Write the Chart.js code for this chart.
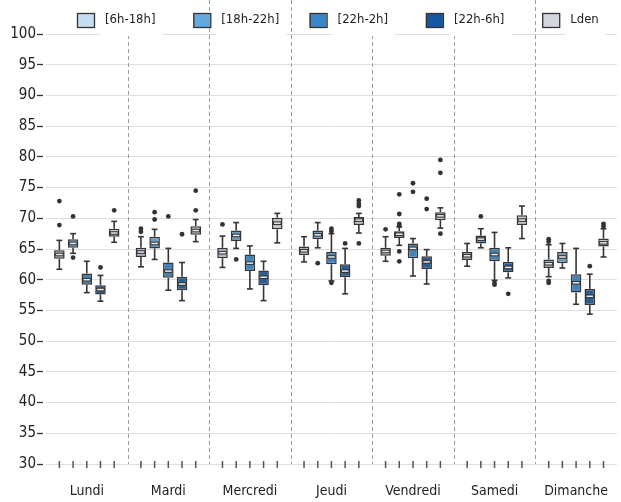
<!DOCTYPE html>
<html>
<head>
<meta charset="utf-8">
<script src="https://cdn.jsdelivr.net/npm/chart.js@4.4.1/dist/chart.umd.min.js"></script>
<style>
  html, body { margin: 0; padding: 0; background: #fff; overflow: hidden; }
</style>
</head>
<body>
<canvas id="boxChart" width="627" height="502"></canvas>
<script>
const days = ['Lundi', 'Mardi', 'Mercredi', 'Jeudi', 'Vendredi', 'Samedi', 'Dimanche'];
const periods = ['[6h-18h]', '[18h-22h]', '[22h-2h]', '[22h-6h]', 'Lden'];

// [whisker low, Q1, median, Q3, whisker high] for each day
const box6h18h = [
  [61.7, 63.4, 64.1, 64.8, 66.4], [62.1, 63.7, 64.5, 65.2, 67.0], [62.0, 63.5, 64.4, 65.2, 67.1],
  [62.9, 64.0, 64.7, 65.4, 67.0], [63.0, 63.9, 64.6, 65.2, 67.0], [62.2, 63.2, 63.9, 64.5, 65.9],
  [60.5, 61.9, 62.6, 63.3, 65.7]
];
const box18h22h = [
  [64.3, 65.2, 65.9, 66.6, 67.5], [63.3, 65.1, 65.9, 67.0, 68.2], [65.1, 66.3, 67.2, 68.0, 69.3],
  [65.2, 66.6, 67.3, 68.0, 69.3], [65.6, 66.8, 67.4, 67.9, 68.6], [65.2, 65.9, 66.6, 67.2, 68.3],
  [61.9, 62.7, 63.7, 64.5, 65.9]
];
const box22h2h = [
  [57.9, 59.2, 60.0, 61.0, 63.0], [58.3, 60.3, 61.4, 62.8, 65.1], [58.5, 61.4, 62.7, 64.1, 65.5],
  [59.8, 62.5, 63.7, 64.5, 67.5], [60.6, 63.5, 65.1, 65.9, 66.7], [59.9, 63.0, 64.1, 65.2, 67.7],
  [56.0, 57.9, 59.5, 60.9, 65.1]
];
const box22h6h = [
  [56.5, 57.6, 58.4, 59.1, 60.7], [56.6, 58.3, 59.3, 60.5, 62.8], [56.6, 59.1, 60.4, 61.5, 63.0],
  [57.7, 60.4, 61.4, 62.5, 65.1], [59.3, 61.7, 62.9, 63.8, 64.9], [60.3, 61.2, 62.0, 62.9, 65.2],
  [54.4, 55.9, 57.3, 58.5, 60.9]
];
const boxLden = [
  [66.1, 67.0, 67.6, 68.3, 69.5], [66.2, 67.3, 68.0, 68.7, 69.8], [66.0, 68.2, 69.2, 70.1, 70.8],
  [67.6, 68.9, 69.7, 70.2, 70.8], [68.4, 69.7, 70.4, 71.0, 71.7], [66.7, 68.9, 69.7, 70.5, 72.0],
  [63.7, 65.4, 66.0, 66.7, 68.3]
];

// points outside the whiskers
const out6h18h = [[72.8, 68.9], [68.3, 67.8], [69.0], [], [68.2], [], [66.6, 66.2, 59.8, 59.5]];
const out18h22h = [[70.3, 63.6], [71.0, 69.8], [63.3], [62.7], [73.9, 70.7, 69.1, 68.8, 64.6, 63.0], [70.3], []];
const out22h2h = [[], [70.3], [], [68.3, 67.9, 59.5], [75.7, 74.3], [59.5, 59.2], []];
const out22h6h = [[62.0], [67.4], [], [65.9], [73.2, 71.5], [57.7], [62.2]];
const outLden = [[71.3], [74.5, 71.3], [], [72.9, 72.4, 72.0, 65.9], [79.5, 77.4, 67.5], [], [69.1, 68.7]];

const boxes = [box6h18h, box18h22h, box22h2h, box22h6h, boxLden];
const outliers = [out6h18h, out18h22h, out22h2h, out22h6h, outLden];

const legendColors = ['#c6ddf2', '#65aadf', '#3986c9', '#1756a3', '#d3d6dc'];
const boxColors = ['#a9b4bf', '#6a9cc2', '#4482b8', '#2c5c90', '#c2c4c9'];
const edgeColor = '#353535';
const fontFamily = "'DejaVu Sans Condensed', 'DejaVu Sans', sans-serif";

Chart.defaults.font.family = fontFamily;
Chart.defaults.color = '#222';

function strokeLine(ctx, x1, y1, x2, y2) {
  ctx.beginPath();
  ctx.moveTo(x1, y1);
  ctx.lineTo(x2, y2);
  ctx.stroke();
}

// whiskers, medians, outliers, day separators and the legend
const boxPlotExtras = {
  id: 'boxPlotExtras',
  beforeDatasetsDraw(chart) {
    const { ctx, chartArea, scales: { x, y } } = chart;
    ctx.save();
    // dashed separators between days
    ctx.strokeStyle = '#9c9c9c';
    ctx.lineWidth = 1;
    ctx.setLineDash([4, 3]);
    for (let i = 1; i < days.length; i++) {
      const px = Math.round((x.getPixelForValue(i - 1) + x.getPixelForValue(i)) / 2) + 0.5;
      strokeLine(ctx, px, 0, px, chartArea.bottom);
    }
    // whiskers
    ctx.setLineDash([]);
    ctx.strokeStyle = edgeColor;
    ctx.lineWidth = 1.6;
    chart.data.datasets.forEach((ds, di) => {
      chart.getDatasetMeta(di).data.forEach((bar, j) => {
        const s = boxes[di][j];
        const half = bar.width * 0.28;
        strokeLine(ctx, bar.x, y.getPixelForValue(s[0]), bar.x, y.getPixelForValue(s[1]));
        strokeLine(ctx, bar.x, y.getPixelForValue(s[3]), bar.x, y.getPixelForValue(s[4]));
        strokeLine(ctx, bar.x - half, y.getPixelForValue(s[0]), bar.x + half, y.getPixelForValue(s[0]));
        strokeLine(ctx, bar.x - half, y.getPixelForValue(s[4]), bar.x + half, y.getPixelForValue(s[4]));
      });
    });
    ctx.restore();
  },
  afterDatasetsDraw(chart) {
    const { ctx, chartArea, scales: { y } } = chart;
    ctx.save();
    chart.data.datasets.forEach((ds, di) => {
      chart.getDatasetMeta(di).data.forEach((bar, j) => {
        const s = boxes[di][j];
        const my = y.getPixelForValue(s[2]);
        const x1 = bar.x - bar.width / 2 + 1, x2 = bar.x + bar.width / 2 - 1;
        ctx.strokeStyle = edgeColor;
        ctx.lineWidth = 3.6;
        strokeLine(ctx, x1, my, x2, my);
        ctx.strokeStyle = '#e9ecef';
        ctx.lineWidth = 1.5;
        strokeLine(ctx, x1 + 1, my, x2 - 1, my);
        // outliers
        ctx.fillStyle = '#333';
        outliers[di][j].forEach(v => {
          ctx.beginPath();
          ctx.arc(bar.x, y.getPixelForValue(v), 2.4, 0, Math.PI * 2);
          ctx.fill();
        });
        // small tick under each box
        ctx.strokeStyle = '#555';
        ctx.lineWidth = 1.5;
        strokeLine(ctx, bar.x, chartArea.bottom - 3, bar.x, chartArea.bottom + 4);
      });
    });
    ctx.restore();
  },
  afterDraw(chart) {
    const ctx = chart.ctx;
    ctx.save();
    ctx.font = '13px ' + fontFamily;
    ctx.textBaseline = 'middle';
    periods.forEach((name, i) => {
      const bx = 77 + i * 116.3;
      const tx = bx + 28;
      const w = ctx.measureText(name).width;
      ctx.fillStyle = '#fff';
      ctx.fillRect(tx - 5, 0, w + 12, 36);
      ctx.fillStyle = legendColors[i];
      ctx.fillRect(bx, 13, 17, 14);
      ctx.strokeStyle = '#333';
      ctx.lineWidth = 1.3;
      ctx.strokeRect(bx + 0.5, 13.5, 17, 14);
      ctx.fillStyle = '#222';
      ctx.fillText(name, tx, 20);
    });
    ctx.restore();
  }
};

new Chart(document.getElementById('boxChart'), {
  type: 'bar',
  data: {
    labels: days,
    datasets: periods.map((name, i) => ({
      label: name,
      data: boxes[i].map(s => [s[1], s[3]]),
      backgroundColor: boxColors[i],
      borderColor: edgeColor,
      borderWidth: 1.5,
      borderSkipped: false,
      categoryPercentage: 0.84,
      barPercentage: 0.77
    }))
  },
  options: {
    responsive: false,
    animation: false,
    devicePixelRatio: 1,
    layout: { padding: { top: 34, left: 0, right: 0, bottom: 0 } },
    plugins: {
      legend: { display: false },
      tooltip: { enabled: false }
    },
    scales: {
      x: {
        grid: { display: false, drawTicks: false },
        border: { display: false },
        ticks: { font: { size: 14 }, padding: 19 },
        afterFit: s => { s.height = 38; }
      },
      y: {
        min: 30,
        max: 100,
        ticks: { stepSize: 5, font: { size: 15 }, padding: 1 },
        grid: { color: '#dedede', tickColor: '#333', tickLength: 9, tickWidth: 1.3, tickBorderDash: [6, 12] },
        border: { display: false },
        afterFit: s => { s.width = 46; }
      }
    }
  },
  plugins: [boxPlotExtras]
});
</script>
</body>
</html>
